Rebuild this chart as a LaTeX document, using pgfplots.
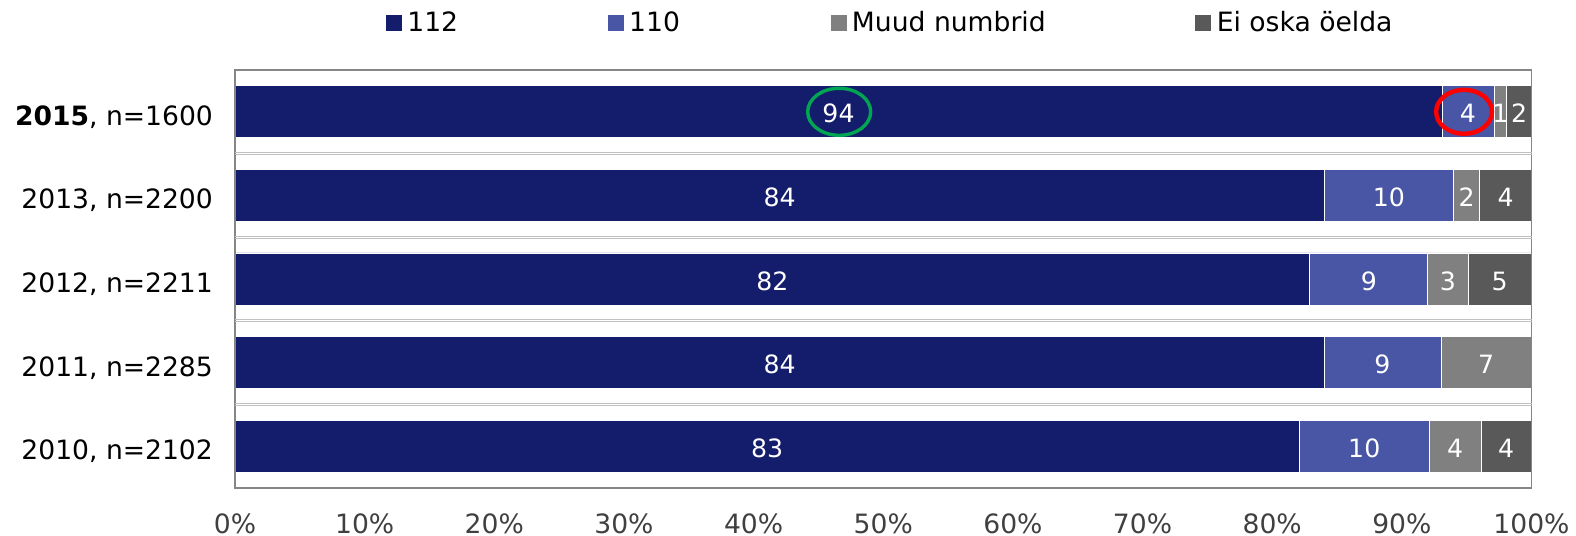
\documentclass[border=0pt]{standalone}
\usepackage{pgfplots}
\pgfplotsset{compat=1.18}
\usepackage{fontspec}
\setmainfont{DejaVu Sans}
\definecolor{cA}{RGB}{20,28,108}
\definecolor{cB}{RGB}{72,86,165}
\definecolor{cC}{RGB}{128,128,128}
\definecolor{cD}{RGB}{89,89,89}
\definecolor{framec}{RGB}{134,134,134}
\definecolor{linec}{RGB}{192,192,192}
\definecolor{tickc}{RGB}{64,64,64}
\definecolor{ellg}{RGB}{0,166,81}
\tikzset{lab/.style={font=\fontsize{13.3}{16}\selectfont}}
\begin{document}
\begin{tikzpicture}
\pgfplotsset{
  base/.style={scale only axis, width=648.25pt, height=209pt,
    xmin=0, xmax=100, ymin=-0.5, ymax=4.5},
}
\begin{axis}[base, name=a, xbar stacked, bar width=26pt, axis on top,
  axis line style={draw=framec, line width=0.7pt},
  xtick={0,10,...,100},
  xticklabels={0\%,10\%,20\%,30\%,40\%,50\%,60\%,70\%,80\%,90\%,100\%},
  ytick={0,1,2,3,4},
  yticklabels={{2010, n=2102},{2011, n=2285},{2012, n=2211},{2013, n=2200},{\textbf{2015}, n=1600}},
  major tick length=0pt, tick style={draw=none},
  xticklabel style={lab, anchor=base, inner sep=0pt, yshift=-22.5pt, text=tickc},
  yticklabel style={lab, anchor=base east, inner sep=0pt, xshift=-10.85pt, yshift=-6.7pt, text=black},
  extra y ticks={0.488,0.512,1.488,1.512,2.488,2.512,3.488,3.512},
  extra y tick labels={},
  extra y tick style={grid=major, major grid style={draw=linec, line width=0.5pt}, tick style={draw=none}},
  legend columns=4,
  legend style={draw=none, fill=none, inner sep=0pt, outer sep=0pt,
    at={(0,1)}, anchor=west, xshift=75.5pt, yshift=23.5pt,
    nodes={inner sep=0pt, text=black, lab},
    /tikz/every even column/.append style={column sep=0pt},
    /tikz/every odd column/.append style={column sep=0pt}},
]
\addplot[fill=cA, draw=white, line width=0.4pt,
  legend image code/.code={\fill[cA] (0pt,-3.75pt) rectangle (7.5pt,3.75pt);}]
  coordinates {(82.1,0) (84.0,1) (82.9,2) (84.0,3) (93.1,4)};
\addplot[fill=cB, draw=white, line width=0.4pt,
  legend image code/.code={\fill[cB] (0pt,-3.75pt) rectangle (7.5pt,3.75pt);}]
  coordinates {(10.0,0) (9.05,1) (9.1,2) (10.0,3) (4.0,4)};
\addplot[fill=cC, draw=white, line width=0.4pt,
  legend image code/.code={\fill[cC] (0pt,-3.75pt) rectangle (7.5pt,3.75pt);}]
  coordinates {(4.0,0) (6.95,1) (3.1,2) (2.0,3) (1.0,4)};
\addplot[fill=cD, draw=white, line width=0.4pt,
  legend image code/.code={\fill[cD] (0pt,-3.75pt) rectangle (7.5pt,3.75pt);}]
  coordinates {(3.9,0) (0,1) (4.9,2) (4.0,3) (1.9,4)};
\legend{{\makebox[103pt][l]{\hspace{2.8pt}112}},
        {\makebox[103.5pt][l]{\hspace{2.8pt}110}},
        {\makebox[174.5pt][l]{\hspace{2.8pt}Muud numbrid}},
        {\hspace{2.8pt}Ei oska öelda}}
\end{axis}
\begin{axis}[base, hide axis]
\addplot[only marks, mark=o, mark size=11.75pt,
  mark options={xscale=1.34, draw=ellg, line width=1.7pt}]
  coordinates {(46.6,4)};
\addplot[only marks, mark=o, mark size=11pt,
  mark options={xscale=1.27, draw=red, line width=2.2pt}]
  coordinates {(94.8,4)};
\addplot[draw=none, mark=none, nodes near coords, point meta=explicit symbolic,
  nodes near coords align={anchor=base},
  every node near coord/.append style={anchor=base, yshift=-5.6pt, text=white,
    inner sep=0pt, font=\fontsize{12.6}{15}\selectfont}]
  coordinates {
   (41.05,0) [83] (87.1,0) [10] (94.1,0) [4] (98.05,0) [4]
   (42.0,1) [84] (88.5,1) [9] (96.5,1) [7]
   (41.45,2) [82] (87.45,2) [9] (93.55,2) [3] (97.55,2) [5]
   (42.0,3) [84] (89.0,3) [10] (95.0,3) [2] (98.0,3) [4]
   (46.55,4) [94] (95.1,4) [4] (97.6,4) [1] (99.05,4) [2]
  };
\end{axis}
\pgfresetboundingbox
\path[use as bounding box] ([xshift=-117.5pt,yshift=-23.85pt]a.south west) rectangle ([xshift=22.25pt,yshift=35pt]a.north east);
\end{tikzpicture}
\end{document}
